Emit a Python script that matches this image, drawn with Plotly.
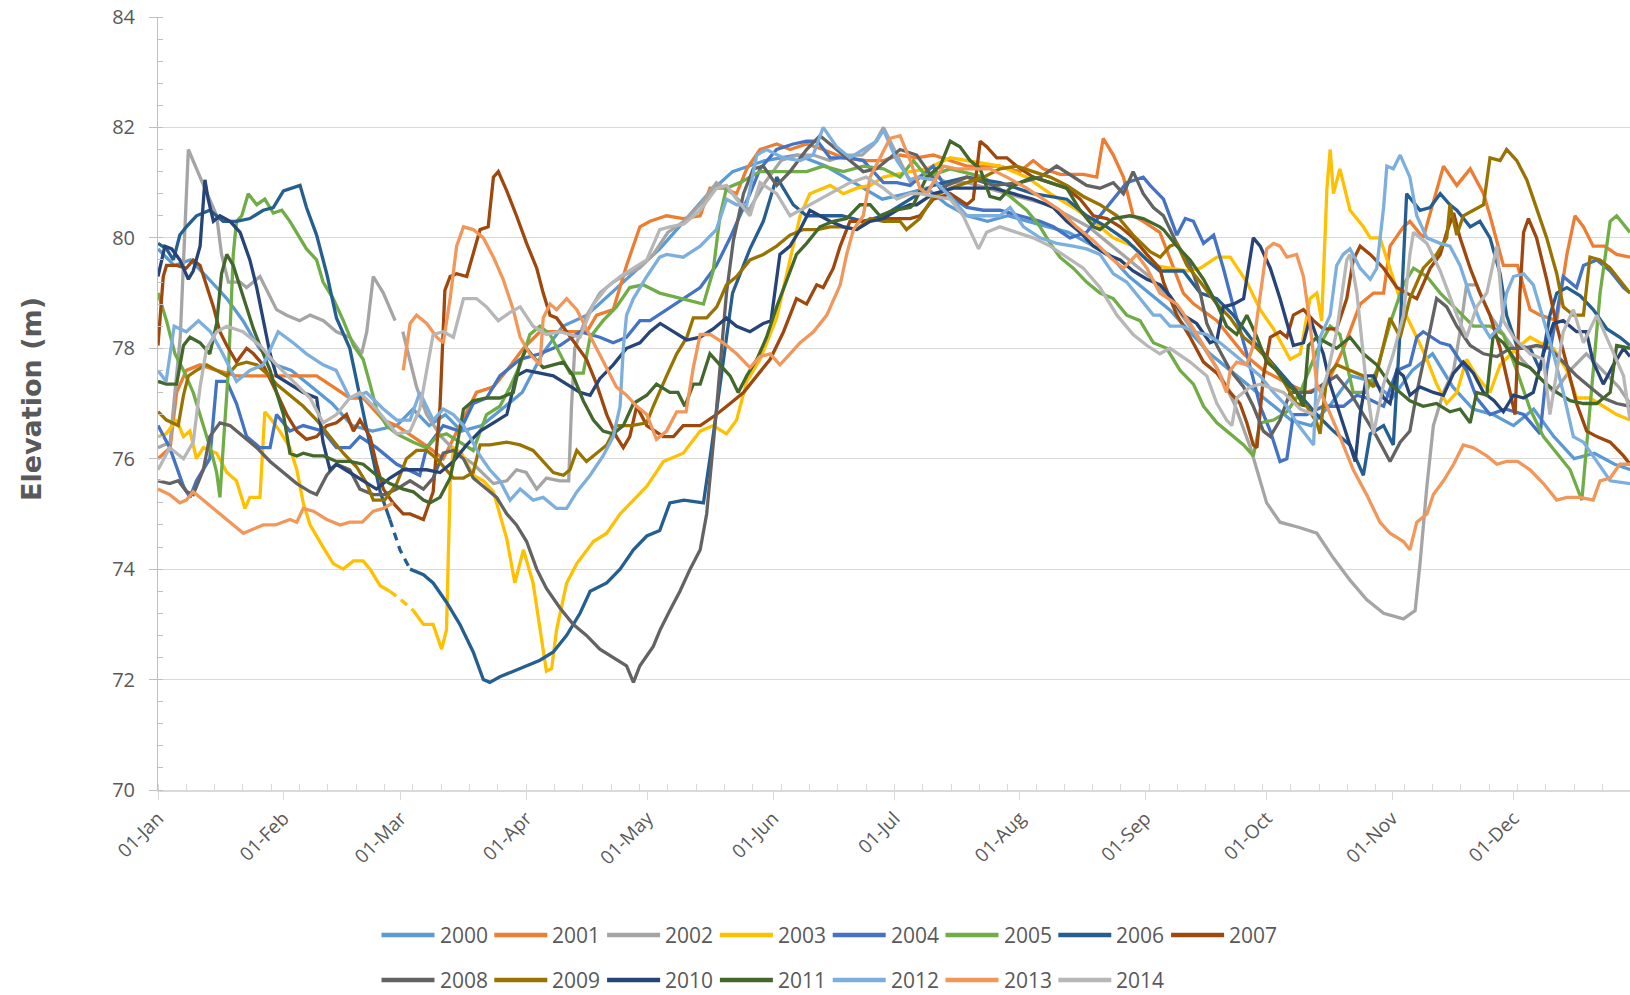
import pandas as pd
import plotly.graph_objects as go

# ---- daily reservoir elevation (m) by year; x = day of year (0 = 01-Jan) ----
days_2000 = [0,4,8,12,17,21,25,29,33,38,43,48,53,59,63,67,71,75,80,85,90,95,100,106,112,118,124,130,136,142,150,158,165,172,179,185,190,195,200,205,210,215,220,225,230,235,240,245,250,255,260,265,270,275,280,285,290,295,300,305,310,315,320,325,330,335,340,345,350,355,360,364]
elev_2000 = [79.8,79.5,79.6,79.3,78.9,78.5,78.0,77.7,77.6,77.3,77.0,76.6,76.5,76.6,76.9,76.6,76.8,76.5,76.6,76.9,77.2,77.9,78.4,78.6,79.0,79.4,79.8,80.3,80.8,81.2,81.4,81.5,81.3,81.0,80.7,80.8,80.9,80.6,80.4,80.3,80.4,80.3,80.2,80.1,79.9,79.7,79.3,79.0,78.7,78.3,77.9,77.6,77.3,77.0,76.7,76.6,77.0,77.5,77.4,77.1,77.6,77.9,77.3,76.9,76.8,76.6,76.9,76.4,76.0,76.1,75.9,75.8]

days_2001 = [0,3,4.6,7,10.4,14.5,19.4,22.7,26.8,31,35,39.2,43.3,47.4,50.7,55.7,59,63,67,70.5,74.6,78.7,82.9,86.2,90.3,94.4,99.3,106,108.4,112.5,115.8,119.1,121.6,125.7,129.8,134,136.4,139.7,143,145.5,148.8,152.9,156.2,160.3,164.4,169.4,175.1,179.3,183.4,187.5,191.6,195.8,199.9,208,213,216.3,218.8,223,228.7,232,233.6,236.1,238.6,241,243.5,247.6,253.4,256,261.7,268.3,273.2,278.2,283.9,288.9,293,297.1,300.4,302.9,304.5,307.8,309.4,312.7,315,317.7,321,324.3,327.6,329.2,332.5,336,339.1,341.6,345.7,348.2,350.2,352.3,354.7,357.5,360.5,363.8]
elev_2001 = [76.0,76.2,77.2,77.6,77.7,77.6,77.5,77.5,77.5,77.5,77.5,77.5,77.3,77.1,77.1,76.7,76.6,76.4,76.2,76.0,76.6,77.2,77.3,77.6,78.0,78.3,78.3,78.3,78.6,78.7,79.5,80.2,80.3,80.4,80.35,80.4,80.9,80.9,80.8,81.25,81.6,81.7,81.6,81.7,81.6,81.45,81.4,81.4,81.5,81.45,81.5,81.4,81.3,81.3,81.2,81.4,81.25,81.15,81.15,81.1,81.8,81.5,81.1,80.4,80.3,80.1,79.0,78.8,78.5,77.9,77.6,77.4,77.2,77.35,78.0,78.8,79.0,79.0,79.85,80.2,80.3,80.0,80.6,81.3,80.95,81.25,80.8,80.4,79.5,79.5,78.7,78.6,78.5,79.7,80.4,80.2,79.85,79.85,79.7,79.65]

days_2002 = [0,3,5.5,7.5,10.4,14.5,15.7,17.4,20.3,21.9,25.2,29.3,31.8,35,37.6,40.9,44.1,47.4,50.3,51.6,53.2,55.7,58.6,59.5,60.5,63.9,66.4,70,74,78,82.9,86.2,88.6,91,93.6,96,99.3,101.5,102.2,103,106,109.2,112.5,115.8,119,122.4,126,130,134,138,142,146,150,154,158,162,166,170,174,177,179.3,182,186,190,195,200,205,210,215,220,225,230,235,240,245,250,256,262,266,270,274,277.3,282.3,286.4,290.5,294.6,298.7,302.9,307.8,310.7,311.9,313.6,315.2,317.7,320.2,321.8,323.4,325.9,329.2,333,337,341,345,349,353,357,361,363.8]
elev_2002 = [76.2,76.3,78.2,81.6,81.1,80.4,79.7,79.2,79.2,79.1,79.3,78.7,78.6,78.5,78.6,78.5,78.3,78.2,77.9,78.3,79.3,79.0,78.5,None,78.3,77.3,76.8,76.4,76.1,75.9,75.55,75.6,75.8,75.75,75.45,75.65,75.6,75.6,76.95,78.0,78.6,79.0,79.2,79.35,79.45,79.7,80.1,80.3,80.6,81.0,80.8,80.5,81.0,81.4,81.5,81.5,81.4,81.5,81.5,81.7,82.0,81.6,81.0,81.2,81.0,81.0,80.9,80.8,80.7,80.6,80.4,80.2,79.9,79.6,79.3,78.9,78.3,77.6,77.0,76.2,75.2,74.85,74.75,74.65,74.2,73.8,73.45,73.2,73.1,73.25,74.1,75.5,76.6,77.2,77.6,78.3,79.15,79.15,78.6,78.2,77.8,77.5,77.2,77.6,77.9,77.6,77.3,77.0]

days_2003 = [0,2,4.6,6.3,7.9,9.5,11.2,14.5,17,19.4,21.5,22.7,25.2,26.4,28.1,30.1,32.6,34.3,35.9,37.6,40.8,43.3,45.8,48.3,50.7,52.4,54.9,57.3,60,63.1,65.6,68,69.3,70.1,71.3,72.2,73,75,77.9,80.4,82.9,84.5,86.2,88.2,90.3,92.7,94.4,96,97.3,98.5,101,103.5,107.6,110.9,114.2,117.5,120.8,124.9,129.8,134,137.2,140.5,143,145.5,148.8,152.9,156.2,158.7,161.1,166.1,169.4,172.7,176,179.3,185.9,190,195.8,199.9,208.1,214.7,220.5,226.2,231.2,236.1,241,246,250.1,254.3,257.6,261.7,265,269.1,272.4,275.7,279.8,282.3,284.7,286.4,287.6,288.9,289.7,290.5,292.1,294.6,297.9,299.6,302,304.5,307.8,311.1,313.6,316,318.5,321,323.4,325.9,329.2,331.7,335.8,339.1,341.6,344.9,348.2,350.6,353.9,357.2,360.5,363.8]
elev_2003 = [76.4,76.45,76.7,76.4,76.5,76.0,76.2,76.1,75.75,75.6,75.1,75.3,75.3,76.85,76.7,76.5,76.2,75.8,75.2,74.8,74.4,74.1,74.0,74.15,74.15,74.0,73.7,73.6,73.45,73.25,73.0,73.0,72.7,72.55,72.9,75.55,76.2,76.1,75.7,75.6,75.4,75.0,74.55,73.75,74.35,73.75,72.9,72.15,72.2,72.9,73.75,74.1,74.5,74.65,75.0,75.25,75.5,75.95,76.1,76.5,76.6,76.45,76.7,77.4,77.8,78.55,79.6,80.4,80.8,80.95,80.8,80.9,80.95,81.1,81.2,81.25,81.45,81.4,81.3,81.1,80.8,80.55,80.3,80.0,79.85,79.5,79.45,79.4,79.45,79.65,79.65,79.2,78.7,78.35,77.8,77.9,78.9,79.0,78.5,80.9,81.6,80.8,81.25,80.5,80.2,80.0,80.0,79.45,78.7,78.2,77.8,77.35,77.0,77.2,77.8,77.5,77.2,77.7,78.0,78.2,78.1,78.0,77.6,77.1,77.1,76.95,76.8,76.7]

days_2004 = [0,2.9,6.3,7.9,9.5,12.8,14.5,17,19.4,21.9,25.2,27.7,29.3,32.6,35.9,40.8,44.1,47.4,49.9,54,59,62,64.7,66.4,70.5,74.6,77.9,81.2,84.5,89.5,94.4,99.3,104.3,109.2,112.5,115.8,119.1,121.6,125.7,129.8,134,138,141.4,143.8,146.3,148.8,152.9,157,160.3,163,166.1,171,174.3,179.3,182.6,185.9,191.6,195.8,199.9,204,208.1,213,218,221.3,225.4,229.5,232.8,236.1,239.4,243.5,245.2,248.5,251.8,253.9,255.9,258.4,260.9,263.3,265.8,269.1,272.4,274.9,277.3,279,280.6,283.9,288,293,296.3,298.7,302.9,306.2,309.4,311.1,312.7,316.9,319.3,323.4,325.9,329.2,333,337.5,341.6,343.2,345.7,347.3,350.6,352.3,355.6,358.9,362.2,363.8]
elev_2004 = [76.6,76.2,75.5,75.3,75.6,76.0,77.4,77.4,77.0,76.4,76.2,76.2,76.8,76.5,76.6,76.5,76.2,76.2,76.4,76.2,75.9,75.8,75.7,76.2,76.6,76.5,77.0,77.1,77.5,77.8,77.9,78.05,78.3,78.2,78.1,78.2,78.5,78.5,78.7,78.9,79.1,79.5,80.0,80.4,80.8,81.25,81.6,81.7,81.75,81.75,81.45,81.45,81.4,81.0,81.0,80.95,81.3,80.75,80.55,80.5,80.5,80.4,80.3,80.2,80.0,80.1,80.4,80.7,81.0,81.1,80.95,80.7,80.05,80.35,80.3,79.9,80.05,79.45,78.75,77.9,76.95,76.5,75.95,76.0,76.8,76.8,76.95,76.95,77.15,77.1,76.95,77.6,77.7,78.2,78.3,78.1,78.05,77.6,77.1,76.8,76.9,76.8,76.45,77.6,78.6,79.3,79.1,79.5,79.6,79.4,79.1,79.0]

days_2005 = [0,2.1,4.2,6.3,8.7,11.2,13.3,14.5,15.3,16.1,17.4,18.6,19.4,20.7,22.3,24.4,26.4,28.5,30.6,32.6,34.3,36.7,39.2,40.8,43.3,45.8,48.3,50.7,52.4,54,56.5,59,63.1,66.4,68.9,71.3,74.6,77.9,81.2,84.5,87,89.5,91.9,94.4,96.9,99.3,101.8,105.1,106.8,110,113.3,116.6,119.9,124,129.8,134.8,137.2,138.9,140.5,143.8,148.8,154.5,160.3,164.4,169.4,174.3,179.3,183.4,186.7,190,195.8,204,210.6,214.7,218,220.5,222.9,226.2,229.5,232.8,236.1,239.4,242.7,246,249.3,252.6,255.9,258.4,261.7,265,268.3,270.7,272.4,275.7,279,282.3,286.4,289.7,292.1,295.4,298.5,301.2,304.5,307.8,310.3,313.6,316.9,321,325.1,329.2,332.5,335.8,339.1,342.4,345.7,349,351.9,353.9,356.4,358.9,360.5,363.8]
elev_2005 = [79.0,78.5,77.9,77.6,77.2,76.6,76.1,75.75,75.3,76.2,77.6,79.7,80.3,80.4,80.8,80.6,80.7,80.45,80.5,80.3,80.1,79.8,79.6,79.2,78.9,78.5,78.05,77.8,77.35,76.9,76.6,76.45,76.3,76.2,76.4,76.45,76.3,76.15,76.8,76.95,77.3,77.7,78.25,78.4,78.25,77.9,77.55,77.55,78.2,78.5,78.75,79.1,79.15,79.0,78.9,78.8,79.4,80.4,80.9,81.0,81.2,81.2,81.2,81.3,81.2,81.3,81.25,81.1,81.4,81.1,81.25,81.1,80.75,80.5,80.2,79.9,79.65,79.45,79.2,79.0,78.9,78.6,78.5,78.1,78.0,77.6,77.35,76.95,76.65,76.45,76.25,76.05,76.65,76.7,76.85,77.2,77.95,78.4,78.25,77.2,77.2,77.6,78.45,79.15,79.45,79.3,79.0,78.7,78.4,78.4,78.25,77.6,76.9,76.4,76.1,75.8,75.25,76.9,79.0,80.3,80.4,80.1]

days_2006 = [0,2.1,3.8,5.4,7,9.5,12.8,16.1,19.4,22.7,26,28.5,31,33.4,35.1,36.7,39.2,41.7,44.1,47.4,49.9,52.4,54.9,57.3,59.8,62.3,65.6,68,71.3,74.6,77.9,80.4,82,84.5,87.8,91.1,94.4,97.7,101,104.3,106.8,110.9,114.2,117.5,120.8,124,126.5,130,134.8,136.8,139.3,142,146.3,149.6,152.9,154.5,157,160.3,164.4,169,174.3,179.3,185.9,191.6,199.9,208.1,216.3,224.6,229.5,234.5,239.4,244.4,247.6,253.4,257.6,261.7,265.8,269.9,274,278.2,282.3,286.4,290.5,294.6,297.9,299.6,302.9,305.3,307,308.6,311.9,314.4,316.9,319.3,321,324.3,326.7,329.2,331.7,333.3,335.8,339.1,341.6,344,345.7,348.2,351.5,354.7,358.1,361.3,363.8]
elev_2006 = [79.9,79.8,79.6,80.05,80.2,80.4,80.5,80.3,80.3,80.35,80.5,80.55,80.85,80.9,80.95,80.55,80.05,79.35,78.55,78.0,77.1,76.25,75.4,74.9,74.35,74.0,73.9,73.75,73.4,73.0,72.5,72.0,71.95,72.05,72.15,72.25,72.35,72.5,72.8,73.2,73.6,73.75,74.0,74.35,74.6,74.7,75.2,75.25,75.2,76.2,77.6,79.0,79.8,80.3,81.1,80.9,80.6,80.4,80.4,80.4,80.3,80.4,80.7,80.95,81.1,81.0,80.8,80.7,80.4,80.2,79.95,79.6,79.4,79.4,79.0,78.9,78.6,78.2,77.85,77.5,77.15,76.8,76.5,76.25,75.7,76.45,76.6,76.25,78.35,80.8,80.5,80.55,80.8,80.6,80.5,80.2,80.3,80.0,79.35,78.6,78.05,78.0,77.6,78.6,79.0,79.1,78.95,78.7,78.35,78.2,78.05]

days_2007 = [0,1.3,2.1,4.6,7,8.7,10.4,12,13.7,15.3,17,19.4,21.9,23.6,26,29.3,31.8,34.3,36.7,39.2,41.7,44.1,46.6,48.3,49.9,52.4,54,55.7,58.1,60.6,62.3,65.6,68,69.7,70.9,72.2,73.8,76.3,77.9,79.6,81.6,82.9,84.1,86.2,88.6,91.1,93.6,95.2,96.9,98.5,101,103.5,105.9,108.4,110.9,113.3,115,116.6,118.3,120.8,124.9,127.4,129.8,134,138,141.4,144.7,148,151.3,154.6,157.8,160.3,162.8,164.4,166.9,168.6,171,174.3,179.3,185.9,188.3,191.6,195.8,199.9,201.5,203.2,204.8,207.3,209.8,212.2,216.3,220.5,224.6,227.9,231.2,234.5,237.8,241,244.4,247.6,248.5,251.8,255.1,258.4,261.7,265,267.4,269.1,270.7,271.6,273.2,274.9,277.3,279,280.6,283.1,285.6,288,291.3,293.8,295.4,297.1,299.6,302.9,306.2,308.6,311.1,314.4,316.9,318.5,320.2,321.8,324.3,326.7,329.2,331.7,334.2,335.4,336.6,337.5,338.7,340.7,343.2,345.7,348.2,350.6,353.1,355.6,358.9,362.2,363.8]
elev_2007 = [78.05,79.3,79.5,79.5,79.45,79.6,79.5,79.15,78.75,78.3,78.05,77.75,78.0,77.9,77.7,77.2,76.8,76.5,76.35,76.4,76.6,76.65,76.8,76.5,76.7,76.4,75.9,75.45,75.2,75.0,75.0,74.9,75.4,76.95,79.05,79.3,79.35,79.3,79.7,80.15,80.2,81.1,81.2,80.85,80.4,79.9,79.45,79.0,78.6,78.55,78.3,78.05,77.8,77.35,76.8,76.4,76.2,76.4,76.95,76.6,76.4,76.4,76.6,76.6,76.8,77.0,77.2,77.5,77.8,78.3,78.9,78.8,79.15,79.1,79.45,79.85,80.3,80.3,80.35,80.35,80.4,80.7,80.8,80.6,80.7,81.75,81.65,81.45,81.45,81.3,81.1,81.0,80.9,80.7,80.4,80.35,80.2,80.0,79.7,79.45,79.2,78.6,78.2,77.75,77.55,77.2,77.0,76.65,76.25,76.2,77.5,78.2,78.3,78.2,78.6,78.7,78.5,78.35,78.35,78.9,79.6,79.85,79.7,79.45,79.1,79.0,78.9,79.45,79.7,80.1,80.45,80.0,79.45,79.0,78.6,78.0,77.2,76.8,79.0,80.1,80.35,80.0,79.25,78.4,77.7,77.0,76.5,76.4,76.3,76.05,75.9]

days_2008 = [0,2.9,5,7.1,8.7,11.2,12.8,15.3,17.8,21.1,24.4,27.7,31,34.3,37.6,39.2,41.7,44.1,47.4,49.9,53.2,56,59,62.3,65.6,68,70.5,73,75.5,77.9,81.2,83.7,86.2,88.6,91.1,93.6,96,99.3,102.6,105.9,109.2,112.5,115.8,117.5,119.1,122.4,124.1,126.5,129,131.5,134,135.6,136.8,138.1,139.3,140.5,142.2,144.7,147.1,149.6,152.9,156.2,160.3,163.6,166.9,171,174.3,177.6,180.9,183.4,187.5,190,193.3,199.9,206.5,213,218,222.1,226.2,229.5,232.8,236.1,238.6,241,243.5,246,248.5,251.8,255.1,257.6,259.2,261.7,265,268.3,270.7,273.2,274.9,277.3,279.8,282.3,285,288,291.3,294.6,297.9,301.2,304.5,307,309.4,311.1,313.6,316,318.5,321,324.3,327.6,330.9,334.2,337.5,340.7,344,347.3,350.6,353.9,357.2,360.5,363.8]
elev_2008 = [75.6,75.55,75.6,75.4,75.35,75.8,76.4,76.65,76.6,76.4,76.2,75.95,75.75,75.55,75.4,75.35,75.7,75.9,75.8,75.45,75.35,75.35,75.45,75.6,75.45,75.65,76.1,76.15,76.0,75.65,75.45,75.3,75.0,74.8,74.5,74.0,73.65,73.3,73.0,72.8,72.55,72.4,72.25,71.95,72.25,72.6,72.9,73.25,73.6,74.0,74.35,75.0,75.9,76.95,78.0,79.0,79.95,80.8,81.25,81.3,80.95,81.2,81.6,81.85,81.65,81.4,81.2,81.25,81.45,81.6,81.5,81.25,80.9,81.1,80.95,81.0,81.1,81.3,81.1,80.95,80.9,81.0,80.8,81.2,80.8,80.55,80.4,79.9,79.5,79.0,78.45,78.05,77.6,77.3,76.95,76.5,76.4,76.7,77.2,77.2,77.2,77.35,77.5,77.2,76.8,76.4,75.95,76.3,76.5,77.2,78.05,78.9,78.75,78.4,78.05,77.9,77.85,78.0,78.0,78.05,78.0,77.75,77.5,77.3,77.1,77.0,76.95]

days_2009 = [0,2.1,5,6.3,7.5,9.5,12,14.5,17,19.4,21.9,24.4,26.8,29.3,32.6,35.9,39.2,42.5,45.8,49.1,51.6,53.2,56,59,61.4,63.9,66.4,68.9,71.3,73,75.5,77.9,79.6,82,86.2,89.5,92.7,95.2,97.7,100.2,101.8,103.5,105.9,108.4,110.9,113.3,117,120.8,122.4,125.7,128.2,130.7,132.3,135.6,138.1,140.5,143,146.3,149.6,152.9,156.2,159.5,163,166.1,169.4,172.7,176,179.3,183.4,185,188.3,191.6,195.8,199.9,204,208.1,212.2,216.3,220.5,224.6,228.7,232.8,237,241,245.2,247.7,250.1,251.8,254.3,257.6,261.7,265,268.3,271.6,274.9,278.2,281.4,283.9,286.4,287.2,288.9,291.3,294.6,297.9,300.4,302.9,304.5,307,309.4,312.7,316,318.5,319.3,321,322.6,325.1,327.6,329.2,331.7,333.3,335.8,338.3,340.7,343.2,345.7,347.3,349.8,352.3,353.9,356.4,358.9,362.2,363.8]
elev_2009 = [76.85,76.7,76.6,77.15,77.5,77.6,77.7,77.6,77.5,77.7,77.75,77.7,77.55,77.35,77.15,76.95,76.7,76.4,76.1,75.85,75.55,75.25,75.25,75.55,76.0,76.15,76.15,76.0,75.8,75.65,75.65,75.75,76.25,76.25,76.3,76.25,76.15,75.95,75.75,75.7,75.8,76.15,75.95,76.1,76.25,76.6,76.6,76.65,76.95,77.5,77.9,78.2,78.55,78.55,78.75,79.15,79.3,79.6,79.7,79.85,80.05,80.15,80.15,80.2,80.2,80.15,80.35,80.3,80.3,80.15,80.35,80.75,80.9,81.0,81.1,81.25,81.3,81.2,81.1,80.95,80.75,80.6,80.4,80.05,79.75,79.65,79.85,79.9,79.5,79.2,78.8,78.55,78.2,78.0,77.75,77.4,77.0,76.95,76.65,76.45,77.5,77.7,77.6,77.5,77.3,78.05,78.55,78.2,78.9,79.45,79.7,80.0,80.6,80.05,80.4,80.5,80.6,81.45,81.4,81.6,81.4,81.05,80.55,80.0,79.35,78.75,78.6,78.6,79.65,79.6,79.45,79.15,79.0]

days_2010 = [0,1.7,3.4,5.4,7.5,8.7,10.4,11.6,12.4,13.7,15.3,17.8,20.3,22.7,24.4,26,27.7,29.3,32.6,35.9,39.2,40.8,42.5,44.1,47.4,50.7,54,57.3,60.6,63,66.4,69.7,73,76.3,79.6,82.9,86.2,88.6,91.1,94.4,97.7,101,104.3,106.8,109.2,112.5,115.8,119.1,121.6,124.1,127.4,130.7,134,137.2,140.5,143,146.3,149.6,151.5,153.7,156.2,158.7,161.1,163.6,166.1,169.4,172.7,176,179.3,182.6,185.9,187.5,191.6,196.6,201.5,206.5,211.4,216.3,221.3,224.6,227.9,231.2,234.5,237.8,241,244.4,247.7,250.1,253.4,256.7,260,261.7,263.3,265.8,268.3,269.9,270.7,272.4,274.9,277.3,279,280.6,283.1,284.7,286.4,288,289.7,292.1,294.6,295.9,297.1,298.7,300.4,302.9,304.5,306.2,307.8,309.4,311.9,315.2,317.7,320.2,322.6,325.1,327.6,330.2,332.5,335,337.5,339.9,342.4,344.9,347.3,350.6,353,354.7,357.2,359.7,362.2,363.8]
elev_2010 = [79.3,79.85,79.8,79.6,79.25,79.4,79.85,81.05,80.7,80.3,80.4,80.3,80.1,79.6,79.1,78.55,77.9,77.5,77.35,77.2,77.1,76.3,75.8,75.9,75.75,75.6,75.45,75.65,75.8,75.8,75.8,75.75,75.95,76.25,76.5,76.65,76.8,77.5,77.6,77.55,77.5,77.35,77.2,77.15,77.45,77.7,78.0,78.1,78.3,78.45,78.3,78.15,78.2,78.35,78.55,78.4,78.3,78.45,78.5,79.7,79.85,80.15,80.5,80.4,80.3,80.2,80.15,80.3,80.35,80.5,80.6,80.6,80.8,80.9,80.9,80.9,80.8,80.7,80.55,80.3,80.1,79.85,79.7,79.6,79.4,79.25,79.15,78.95,78.6,78.45,78.1,78.15,78.75,78.8,78.9,79.7,80.0,79.85,79.45,78.9,78.45,78.05,78.1,78.55,78.2,77.9,77.35,76.8,76.25,75.95,76.8,77.5,77.5,77.1,77.0,77.6,77.5,77.15,77.3,77.2,77.15,77.55,77.75,77.55,77.2,77.05,76.85,77.15,77.1,77.2,77.9,78.45,78.5,78.3,78.3,77.75,77.35,77.7,78.0,77.85]

days_2011 = [0,2.1,4.6,6.3,7.9,10.4,12.8,14.5,15.7,17,18.6,20.3,21.9,23.6,25.2,27.7,29.3,31,32.6,34.3,35.9,38.4,41,44.1,47.4,50.7,54,57.3,60.6,63.1,65.6,67.2,69.7,72.2,73.8,75.5,77.9,81.2,84.5,87.8,89.5,91.1,92.7,95.2,97.7,100.2,102.6,105.1,107.6,110,112.5,115,117.5,120.8,123.2,126.5,128.5,130.2,132.3,134,136.4,138.9,141.4,143.4,145.5,148,150.4,152.9,155.4,157.8,160.3,163.6,166.9,170.2,173.5,176,178.4,181.7,185.9,186.7,190,193.3,195.8,198.2,200.7,203.2,205.6,208.1,210.6,213,216.3,220.5,224.6,227.9,231.2,232.8,236.1,240.2,243.5,247.6,248.5,251.8,255.1,258.4,261.7,264.1,266.6,269.1,271.6,274,276.5,279,281.4,283.1,284.3,286.4,288.9,291.3,294.6,297.9,301.2,304.5,307,309.4,312.7,316,319.3,321.8,324.3,325.9,328.4,330,332.5,335.8,339.1,342.4,345.7,349,352.3,355.6,358.9,360.5,363.8]
elev_2011 = [77.4,77.35,77.35,78.05,78.2,78.1,77.9,78.45,79.35,79.7,79.5,79.1,78.7,78.35,78.05,77.6,77.2,76.8,76.1,76.05,76.1,76.05,76.05,75.95,75.95,75.9,75.7,75.55,75.45,75.4,75.25,75.2,75.3,75.65,76.2,76.9,77.05,77.1,77.1,77.2,77.75,78.0,77.85,77.65,77.7,77.75,77.5,77.05,76.7,76.5,76.45,76.6,77.0,77.15,77.35,77.2,77.2,76.95,77.35,77.35,77.9,77.7,77.5,77.2,77.5,77.8,78.2,78.75,79.25,79.7,79.9,80.2,80.3,80.35,80.6,80.6,80.4,80.5,80.55,80.6,81.1,81.3,81.75,81.65,81.4,81.25,80.75,80.7,80.9,81.0,81.1,81.0,80.9,80.5,80.2,80.15,80.35,80.4,80.35,80.2,80.15,79.85,79.6,79.25,78.8,78.4,78.25,78.6,78.2,77.75,77.6,77.35,77.2,76.95,78.05,78.2,78.1,78.0,78.2,77.9,77.7,77.35,77.2,77.05,76.95,77.0,76.85,76.9,76.65,77.2,77.15,78.25,78.1,77.75,77.65,77.4,77.2,77.05,77.0,77.0,77.2,78.05,78.0]

days_2012 = [0,2,4,7,10,13,16,19.4,22.7,26,29.7,33.4,36.7,40.8,44,47.4,51.5,55.7,59,62.3,64.7,68,70.5,73,75.5,77.1,79.6,82,84.5,87,89.5,92.7,95.2,98.5,101,103.5,106.8,110,112.5,114.2,115,115.8,117.5,120.8,124,125.7,129.8,134,138,140.5,143,145.5,148,150.4,154.5,158.7,161.9,164.4,167.7,171,174.3,177.6,179.3,182.6,185.9,187.5,191.6,195.8,199.9,204,208.1,210.6,213.9,218,222.1,226.2,229.5,232.8,236.1,239.4,242.7,246,247.7,250.1,253,255.9,259.2,262.5,265.8,269.1,272.4,275.7,279,281.4,283.9,285.6,286.4,287.2,289.7,291.3,292.9,294.6,297.1,299.6,301.2,302.9,303.7,305.3,307,309.4,311.1,313.6,316.9,319.3,321.8,324.3,326.7,329.2,331.7,333.3,335,337.5,339.9,342.4,344.9,347.3,349.8,352.3,355.6,358.9,363.8]
elev_2012 = [77.6,77.4,78.4,78.3,78.5,78.3,77.9,77.4,77.6,77.7,78.3,78.1,77.9,77.7,77.6,77.1,77.2,76.9,76.7,76.7,77.2,76.7,76.9,76.8,76.6,76.4,76.05,75.8,75.6,75.25,75.45,75.25,75.3,75.1,75.1,75.4,75.7,76.05,76.4,76.95,78.0,78.6,78.9,79.3,79.65,79.7,79.65,79.85,80.15,80.7,80.6,80.6,81.5,81.6,81.45,81.4,81.5,82.0,81.65,81.45,81.6,81.75,81.95,81.4,81.05,81.1,81.05,80.75,80.4,80.4,80.4,80.55,80.2,80.0,79.9,79.85,79.8,79.7,79.35,79.2,78.9,78.6,78.6,78.4,78.4,78.3,78.25,78.1,77.9,77.7,77.5,77.2,76.95,76.65,76.4,76.25,77.6,78.2,78.6,79.5,79.7,79.8,79.45,79.25,79.45,80.55,81.3,81.25,81.5,81.1,80.4,80.0,79.9,79.85,79.5,78.95,78.5,78.2,78.4,79.0,79.3,79.35,79.15,78.55,77.9,77.2,76.4,76.3,75.95,75.6,75.55]

days_2013 = [0,2.9,5.4,7,8.7,11.2,14.5,17.8,21.1,22.7,26,29,32.6,34.3,35.9,38.4,41.7,45,47.4,50.5,53.2,55.7,58.1,59.5,60.6,62.3,63.9,66.4,68.9,70.5,72.2,73.8,75.5,77.9,80.4,82.9,85.3,87.8,89.5,91.9,94.4,95.2,96.9,98.5,101,103.5,105.9,108.4,110.9,113.3,115.8,118.3,120.8,123.2,125.7,128.2,130.5,132.3,134,136.5,139.7,143,146.3,148.8,151.3,153.7,156.2,158.7,162,165.3,168.6,170.2,171.9,174.3,176,178.4,180.9,183.4,185.9,188.3,190,191.6,194.1,197.4,201.5,205.6,209.8,214.7,218.8,222.9,227,231.2,235.3,238.6,241.9,244.4,247.6,251.8,255.1,258.4,261.7,264.1,265,266.6,269.1,270.7,272.4,274,275.7,277.3,279,281.4,283.1,284.7,286.4,288.9,292.1,295.4,298.7,302,304.5,307.8,309.4,311.1,313.6,315.2,317.7,320.2,322.6,325.1,328.4,330.9,333.3,336,339.1,342.4,345.7,348.2,351.5,354.7,356.4,358.9,361.3,363.8]
elev_2013 = [75.45,75.35,75.2,75.25,75.4,75.25,75.05,74.85,74.65,74.7,74.8,74.8,74.9,74.85,75.1,75.05,74.9,74.8,74.85,74.85,75.05,75.1,75.2,None,77.6,78.45,78.6,78.45,78.2,78.1,78.9,79.85,80.2,80.15,80.0,79.65,79.25,78.7,78.2,77.9,77.7,78.55,78.8,78.7,78.9,78.7,78.35,78.0,77.65,77.3,77.15,76.95,76.8,76.35,76.5,76.85,76.85,77.65,78.25,78.25,78.1,77.9,77.65,77.85,77.9,77.7,77.9,78.1,78.3,78.6,79.15,79.7,80.15,80.4,81.1,81.45,81.8,81.85,81.4,80.9,80.8,81.0,81.3,81.25,81.25,81.25,81.1,80.9,80.7,80.5,80.2,79.95,79.65,79.45,79.7,79.45,79.0,78.8,78.45,78.05,77.65,77.2,77.6,77.75,77.7,78.05,79.0,79.8,79.9,79.85,79.65,79.7,79.3,78.45,77.35,76.95,76.4,75.8,75.35,74.85,74.65,74.5,74.35,74.85,75.0,75.35,75.6,75.9,76.25,76.2,76.05,75.9,75.95,75.95,75.8,75.55,75.25,75.3,75.3,75.25,75.6,75.65,75.9,75.9]

days_2014 = [0,2.9,6.3,8.7,10.4,12,14.5,17,21,25.2,29.3,33.4,37.6,40.8,44.1,47.4,49.9,54,59,62.3,64.7,68,70.5,73,75.5,78.7,81.2,84.1,87,89.5,92.7,96,99.3,104.3,107.6,110.9,114.2,117.5,120.8,124,126.5,130,134,138,140.5,143,146.3,148.8,152.9,156.2,161.1,166,171,175,179.3,182.6,185.9,188.3,195.8,199,202.8,204.8,208.1,212.2,216.3,220.5,224.6,228.7,232.8,237,241,244.4,247.6,250.1,255.1,259.2,261.7,264.1,265.4,266.6,269.9,272.4,278.2,282.3,285.6,288.9,291.3,293.8,294.6,296.3,298.7,300.4,302.9,305.3,307.8,309.4,310.3,313.6,316.9,321,323.4,325.9,328.4,330.9,332.5,335,339.1,342.4,344,347.3,349.8,352.3,355.6,358.9,362.2,363.8]
elev_2014 = [75.8,76.2,76.0,76.3,77.3,78.0,78.3,78.4,78.3,78.05,77.7,77.4,77.1,76.65,76.8,77.1,77.2,76.9,76.45,76.5,76.9,78.25,78.3,78.2,78.9,78.9,78.75,78.5,78.65,78.75,78.4,78.25,78.3,78.2,78.8,79.1,79.3,79.45,79.6,80.15,80.2,80.25,80.5,80.9,80.95,80.7,80.4,81.0,80.8,80.4,80.6,80.8,81.0,81.1,80.9,80.7,80.8,80.8,80.7,80.4,79.8,80.1,80.2,80.1,80.0,79.85,79.65,79.45,79.1,78.6,78.25,78.05,77.9,78.0,77.75,77.5,77.0,76.7,76.6,77.1,77.3,77.35,77.2,76.9,76.8,77.5,78.3,79.6,79.7,79.0,77.3,76.45,77.35,77.9,78.6,79.7,80.1,79.9,79.4,78.6,78.2,78.75,79.0,79.85,78.5,78.2,77.9,77.8,76.8,78.3,78.7,78.1,78.6,78.05,77.5,76.7]

years = ["2000", "2001", "2002", "2003", "2004", "2005", "2006", "2007",
         "2008", "2009", "2010", "2011", "2012", "2013", "2014"]
colors = ["#5B9BD5", "#ED7D31", "#A5A5A5", "#FFC000", "#4472C4", "#70AD47", "#255E91", "#9E480E",
          "#636363", "#997300", "#264478", "#43682B", "#7CAFDD", "#F1975A", "#B7B7B7"]

# stretches (day of year) with missing records, drawn dashed
dashed_spans = {"2003": (57.3, 63.1), "2006": (57.3, 62.3)}

series = {
    "2000": (days_2000, elev_2000), "2001": (days_2001, elev_2001), "2002": (days_2002, elev_2002),
    "2003": (days_2003, elev_2003), "2004": (days_2004, elev_2004), "2005": (days_2005, elev_2005),
    "2006": (days_2006, elev_2006), "2007": (days_2007, elev_2007), "2008": (days_2008, elev_2008),
    "2009": (days_2009, elev_2009), "2010": (days_2010, elev_2010), "2011": (days_2011, elev_2011),
    "2012": (days_2012, elev_2012), "2013": (days_2013, elev_2013), "2014": (days_2014, elev_2014),
}

BASE = pd.Timestamp("2000-01-01")
LINE_W = 3.3


def to_dates(days):
    return [BASE + pd.Timedelta(days=float(d)) for d in days]


# ---- layout geometry (px) ----
W, H = 1630, 995
L, R, T, B = 158, 0, 17, 205
PW, PH = W - L - R, H - T - B
GREY_TXT = "#595959"


def px_x(px):
    return (px - L) / PW


def px_y(py):
    return (H - B - py) / PH


fig = go.Figure()

for year, color in zip(years, colors):
    d, v = series[year]
    if year in dashed_spans:
        a, b = dashed_spans[year]
        solid_d, solid_v, dash_d, dash_v = [], [], [], []
        gap_added = False
        for x, y in zip(d, v):
            if x <= a or x >= b:
                if x >= b and not gap_added:
                    solid_d.append((a + b) / 2)
                    solid_v.append(None)
                    gap_added = True
                solid_d.append(x)
                solid_v.append(y)
            if a <= x <= b:
                dash_d.append(x)
                dash_v.append(y)
        fig.add_trace(go.Scatter(x=to_dates(solid_d), y=solid_v, mode="lines", name=year,
                                 line=dict(color=color, width=LINE_W), showlegend=False))
        fig.add_trace(go.Scatter(x=to_dates(dash_d), y=dash_v, mode="lines", name=year,
                                 line=dict(color=color, width=LINE_W, dash="8px,6px"), showlegend=False))
    else:
        fig.add_trace(go.Scatter(x=to_dates(d), y=v, mode="lines", name=year,
                                 line=dict(color=color, width=LINE_W), showlegend=False))

# ---- legend drawn below the plot: two rows of line keys ----
shapes, annotations = [], []
rows = [years[:8], years[8:]]
row_y = [935, 980]
for r, row in enumerate(rows):
    for c, year in enumerate(row):
        x0 = 381.5 + 112.8 * c
        color = colors[years.index(year)]
        shapes.append(dict(type="line", xref="paper", yref="paper",
                           x0=px_x(x0), x1=px_x(x0 + 53), y0=px_y(row_y[r]), y1=px_y(row_y[r]),
                           line=dict(color=color, width=4.5)))
        annotations.append(dict(text=year, xref="paper", yref="paper", x=px_x(x0 + 56), y=px_y(row_y[r]),
                                xanchor="left", yanchor="middle", showarrow=False,
                                font=dict(family="Open Sans", size=21, color=GREY_TXT)))

annotations.append(dict(text="<b>Elevation (m)</b>", xref="paper", yref="paper",
                        x=px_x(31), y=px_y(399), textangle=-90, showarrow=False,
                        xanchor="center", yanchor="middle",
                        font=dict(family="DejaVu Sans", size=27, color=GREY_TXT)))

fig.update_layout(
    width=W, height=H,
    margin=dict(l=L, r=R, t=T, b=B, pad=0),
    paper_bgcolor="white", plot_bgcolor="white",
    showlegend=False,
    shapes=shapes, annotations=annotations,
    xaxis=dict(
        type="date",
        range=[BASE, BASE + pd.Timedelta(days=363.8)],
        tick0="2000-01-01", dtick="M1", tickformat="%d-%b", tickangle=-45,
        ticks="outside", ticklen=8, tickcolor="#D9D9D9", tickwidth=1,
        showline=True, linecolor="#D9D9D9", linewidth=1.5,
        showgrid=False, zeroline=False,
        tickfont=dict(family="Open Sans", size=19, color=GREY_TXT),
        minor=dict(tick0="2000-01-01", dtick=7 * 86400000, ticks="inside", ticklen=6,
                   tickcolor="#D9D9D9", showgrid=False),
    ),
    yaxis=dict(
        range=[70, 84], dtick=2, tick0=70,
        ticks="outside", ticklen=8, tickcolor="#BFBFBF", tickwidth=1,
        showline=True, linecolor="#BFBFBF", linewidth=1,
        showgrid=True, gridcolor="#D9D9D9", gridwidth=1, zeroline=False,
        ticklabelstandoff=10,
        tickfont=dict(family="Open Sans", size=20, color=GREY_TXT),
        minor=dict(dtick=0.4, ticks="inside", ticklen=5, tickcolor="#BFBFBF", showgrid=False),
    ),
)

fig.write_html("out.html")
